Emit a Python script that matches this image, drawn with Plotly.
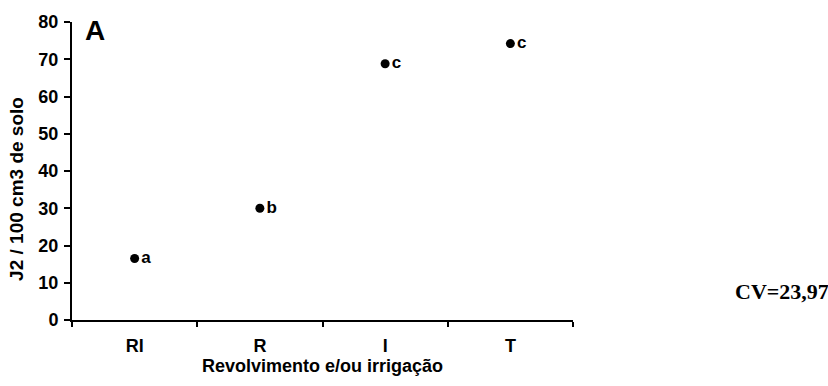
import plotly.graph_objects as go

categories = ["RI", "R", "I", "T"]
values = [16.5, 30, 68.8, 74.2]
letters = ["a", "b", "c", "c"]
y_ticks = [0, 10, 20, 30, 40, 50, 60, 70, 80]

fig = go.Figure()
fig.add_trace(go.Scatter(
    x=categories, y=values, mode="markers+text",
    text=letters, textposition="middle right",
    textfont=dict(family="Liberation Sans, Arial", size=17, color="black", weight="bold"),
    marker=dict(size=9, color="black"),
    showlegend=False,
))

fig.update_layout(
    width=828, height=386,
    margin=dict(l=72, r=255, t=16, b=66),
    plot_bgcolor="white", paper_bgcolor="white",
    font=dict(family="Liberation Sans, Arial", color="black"),
)
fig.update_xaxes(
    type="category", range=[-0.5, 3.5],
    showline=True, linecolor="black", linewidth=2,
    ticks="outside", tickson="boundaries", ticklen=5, tickwidth=1.5, tickcolor="black",
    tickfont=dict(size=18, weight="bold"), ticklabelstandoff=8,
    showgrid=False, zeroline=False,
    title=dict(text="Revolvimento e/ou irrigação", font=dict(size=18, weight="bold"), standoff=0),
)
fig.update_yaxes(
    range=[0, 80], tickvals=y_ticks,
    showline=True, linecolor="black", linewidth=2,
    ticks="outside", ticklen=6, tickwidth=1.5, tickcolor="black",
    tickfont=dict(size=18, weight="bold"), ticklabelstandoff=2,
    showgrid=False, zeroline=False,
)
fig.add_annotation(
    text="J2 / 100 cm3 de solo", xref="paper", yref="paper",
    x=0, xshift=-55, y=0.44, xanchor="center", yanchor="middle",
    textangle=-90, showarrow=False,
    font=dict(size=19, weight="bold", family="Liberation Sans, Arial"),
)
fig.add_annotation(
    text="A", xref="paper", yref="paper", x=0.022, y=0.97,
    xanchor="left", yanchor="middle", showarrow=False,
    font=dict(size=28, weight="bold", family="Liberation Sans, Arial"),
)
fig.add_annotation(
    text="CV=23,97", xref="paper", yref="paper", x=1.0, y=0.095,
    xanchor="left", xshift=160, yanchor="middle", showarrow=False,
    font=dict(size=22, weight="bold", family="Liberation Serif, Times New Roman"),
)
fig.write_html("out.html")
